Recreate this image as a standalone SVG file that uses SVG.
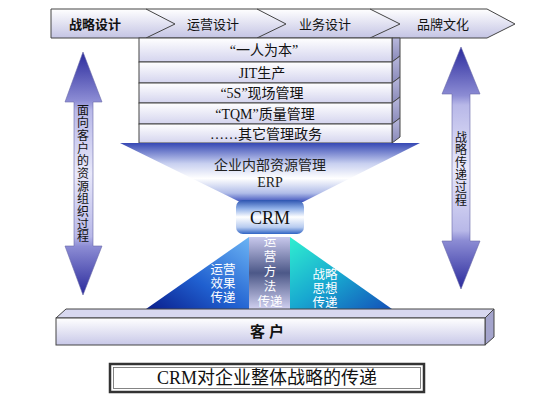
<svg xmlns="http://www.w3.org/2000/svg" width="553" height="415" viewBox="0 0 553 415">
<defs>
<linearGradient id="gBanner" x1="0" y1="0" x2="0" y2="1"><stop offset="0" stop-color="#ffffff"/><stop offset="1" stop-color="#c4c4e4"/></linearGradient>
<linearGradient id="gRow" x1="0" y1="0" x2="0" y2="1"><stop offset="0" stop-color="#ffffff"/><stop offset="1" stop-color="#d4d4ee"/></linearGradient>
<linearGradient id="gSide" x1="0" y1="0" x2="0" y2="1"><stop offset="0" stop-color="#b8b8dc"/><stop offset="1" stop-color="#8888b8"/></linearGradient>
<linearGradient id="gArrow" x1="0" y1="0" x2="0" y2="1">
<stop offset="0" stop-color="#2a2a9c"/><stop offset="0.2" stop-color="#8c8cd4"/><stop offset="0.24" stop-color="#b8b8e8"/><stop offset="0.5" stop-color="#e8e8fa"/><stop offset="0.76" stop-color="#b8b8e8"/><stop offset="0.8" stop-color="#8c8cd4"/><stop offset="1" stop-color="#2a2a9c"/></linearGradient>
<linearGradient id="gFunnel" x1="0" y1="0" x2="0" y2="1"><stop offset="0" stop-color="#3648b4"/><stop offset="0.35" stop-color="#c8d0f0"/><stop offset="0.6" stop-color="#ffffff"/><stop offset="0.85" stop-color="#b0bce8"/><stop offset="1" stop-color="#3c50bc"/></linearGradient>
<linearGradient id="gCrm" x1="0" y1="0" x2="0" y2="1"><stop offset="0" stop-color="#2c54b0"/><stop offset="0.25" stop-color="#90b0e8"/><stop offset="0.5" stop-color="#ffffff"/><stop offset="0.8" stop-color="#b8ccf0"/><stop offset="1" stop-color="#3064c4"/></linearGradient>
<linearGradient id="gLeftTri" x1="1" y1="0" x2="0" y2="1"><stop offset="0" stop-color="#6cb4f4"/><stop offset="0.55" stop-color="#2060d0"/><stop offset="1" stop-color="#0a1e8c"/></linearGradient>
<linearGradient id="gRightTri" x1="0" y1="0" x2="1" y2="1"><stop offset="0" stop-color="#30f0d0"/><stop offset="0.5" stop-color="#18a8d0"/><stop offset="1" stop-color="#1450b8"/></linearGradient>
<linearGradient id="gMid" x1="0" y1="0" x2="0" y2="1"><stop offset="0" stop-color="#c8c8ec"/><stop offset="0.5" stop-color="#4c5888"/><stop offset="1" stop-color="#d0d0f0"/></linearGradient>
<linearGradient id="gBarFront" x1="0" y1="0" x2="0" y2="1"><stop offset="0" stop-color="#ffffff"/><stop offset="1" stop-color="#c8c8e8"/></linearGradient>
</defs>
<style>
.ln{stroke:#444;stroke-width:1}
.cjk{font-family:"Liberation Serif","Noto Sans CJK SC",serif;text-anchor:middle}
.sans{font-family:"Liberation Sans","Noto Sans CJK SC",sans-serif;text-anchor:middle}
.ban{font-size:13px;fill:#111}
.row{font-size:14px;fill:#111}
.tri{font-size:12.5px;fill:#ffffff}
.vt{font-size:12px;fill:#111}
</style>
<rect width="553" height="415" fill="#ffffff"/>

<g id="banner">
<polygon points="51,9 487,9 515,24 487,38 51,38" fill="url(#gBanner)" class="ln"/>
<polyline points="146,9 175,24 146,38" fill="none" class="ln"/>
<polyline points="257,9 286,24 257,38" fill="none" class="ln"/>
<polyline points="370,9 400,24 370,38" fill="none" class="ln"/>
<text x="95" y="29" class="sans ban" font-weight="bold">战略设计</text>
<text x="213" y="29" class="sans ban">运营设计</text>
<text x="325" y="29" class="sans ban">业务设计</text>
<text x="443" y="29" class="sans ban">品牌文化</text>
</g>

<g id="stack">
<polygon points="392,62 400,56 400,38 392,38" fill="url(#gSide)" class="ln"/>
<rect x="139" y="38" width="253" height="24" fill="url(#gRow)" class="ln"/>
<polygon points="392,83 400,77 400,56 392,62" fill="url(#gSide)" class="ln"/>
<rect x="139" y="62" width="253" height="21" fill="url(#gRow)" class="ln"/>
<polygon points="392,103 400,97 400,77 392,83" fill="url(#gSide)" class="ln"/>
<rect x="139" y="83" width="253" height="20" fill="url(#gRow)" class="ln"/>
<polygon points="392,124 400,118 400,97 392,103" fill="url(#gSide)" class="ln"/>
<rect x="139" y="103" width="253" height="21" fill="url(#gRow)" class="ln"/>
<polygon points="392,143 400,137 400,118 392,124" fill="url(#gSide)" class="ln"/>
<rect x="139" y="124" width="253" height="19" fill="url(#gRow)" class="ln"/>
<text x="264" y="55" class="cjk row">“一人为本”</text>
<text x="262" y="77.5" class="cjk row">JIT生产</text>
<text x="262" y="98" class="cjk row">“5S”现场管理</text>
<text x="265" y="118.5" class="cjk row">“TQM”质量管理</text>
<text x="266" y="138.5" class="cjk row">……其它管理政务</text>
</g>

<g id="funnel">
<polygon points="120,143 420,143 303,202 240,202" fill="url(#gFunnel)"/>
<text x="270" y="170" class="cjk" font-size="14" fill="#222">企业内部资源管理</text>
<text x="270" y="187" class="cjk" font-size="14" fill="#222">ERP</text>
</g>

<g id="crm">
<rect x="236" y="200" width="68" height="34" rx="7" fill="url(#gCrm)"/>
<text x="270" y="224" class="cjk" font-size="18" fill="#111">CRM</text>
</g>

<g id="left-triangle">
<polygon points="249,237 249,309 146,309" fill="url(#gLeftTri)"/>
<text class="sans tri"><tspan x="223" y="274">运营</tspan><tspan x="223" y="288">效果</tspan><tspan x="223" y="302">传递</tspan></text>
</g>

<g id="middle-column">
<rect x="249" y="237" width="41" height="72" fill="url(#gMid)"/>
<text class="sans tri"><tspan x="270" y="246">运</tspan><tspan x="270" y="261">营</tspan><tspan x="270" y="276">方</tspan><tspan x="270" y="291">法</tspan><tspan x="270" y="306">传递</tspan></text>
</g>

<g id="right-triangle">
<polygon points="290,237 392,309 290,309" fill="url(#gRightTri)"/>
<text class="sans tri"><tspan x="325" y="279">战略</tspan><tspan x="325" y="293">思想</tspan><tspan x="325" y="307">传递</tspan></text>
</g>

<g id="customer">
<polygon points="56,318 66,309 494,309 485,318" fill="#d8d8f0" class="ln"/>
<polygon points="485,318 494,309 494,337 485,345" fill="#a4a4cc" class="ln"/>
<rect x="56" y="318" width="429" height="27" fill="url(#gBarFront)" class="ln"/>
<text x="269" y="337" class="cjk" font-size="15" font-weight="bold" letter-spacing="4" fill="#111">客户</text>
</g>

<g id="left-arrow">
<polygon points="83,52 102,102 93,102 93,246 102,246 83,295 65,246 74,246 74,102 65,102" fill="url(#gArrow)" stroke="#6a6aa8" stroke-width="0.6"/>
<text class="sans vt"><tspan x="83" y="114.5">面</tspan><tspan x="83" dy="12.7">向</tspan><tspan x="83" dy="12.7">客</tspan><tspan x="83" dy="12.7">户</tspan><tspan x="83" dy="12.7">的</tspan><tspan x="83" dy="12.7">资</tspan><tspan x="83" dy="12.7">源</tspan><tspan x="83" dy="12.7">组</tspan><tspan x="83" dy="12.7">织</tspan><tspan x="83" dy="12.7">过</tspan><tspan x="83" dy="12.7">程</tspan></text>
</g>

<g id="right-arrow">
<polygon points="461,47 480,94 470,94 470,241 480,241 461,289 442,241 452,241 452,94 442,94" fill="url(#gArrow)" stroke="#6a6aa8" stroke-width="0.6"/>
<text class="sans vt"><tspan x="461" y="141.5">战</tspan><tspan x="461" dy="12.6">略</tspan><tspan x="461" dy="12.6">传</tspan><tspan x="461" dy="12.6">递</tspan><tspan x="461" dy="12.6">过</tspan><tspan x="461" dy="12.6">程</tspan></text>
</g>

<g id="caption">
<rect x="110" y="364" width="314" height="28" fill="#ffffff" stroke="#333" stroke-width="2.5"/>
<rect x="113.5" y="367.5" width="307" height="21" fill="none" stroke="#666" stroke-width="0.8"/>
<text x="267" y="384" class="cjk" font-size="18" fill="#111">CRM对企业整体战略的传递</text>
</g>

<g id="connectors"></g>
</svg>
